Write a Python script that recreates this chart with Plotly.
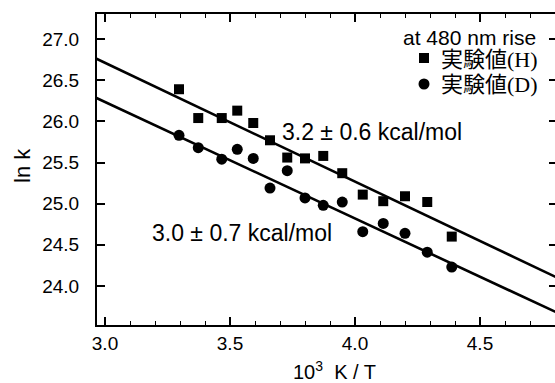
import numpy as np
import plotly.graph_objects as go

# ---- data ----
x_H = [3.296, 3.373, 3.467, 3.529, 3.593, 3.660, 3.729, 3.800, 3.873, 3.949, 4.031, 4.113, 4.200, 4.289, 4.387]
y_H = [26.39, 26.04, 26.04, 26.13, 25.98, 25.77, 25.56, 25.55, 25.58, 25.37, 25.11, 25.03, 25.09, 25.02, 24.60]

x_D = [3.296, 3.373, 3.467, 3.529, 3.593, 3.660, 3.729, 3.800, 3.873, 3.949, 4.031, 4.113, 4.200, 4.289, 4.387]
y_D = [25.83, 25.68, 25.54, 25.66, 25.55, 25.19, 25.40, 25.07, 24.98, 25.02, 24.66, 24.76, 24.64, 24.41, 24.23]

# fitted Arrhenius lines: ln k = intercept + slope * (1000/T)
fit_H = {"slope": -1.443, "intercept": 31.040}
fit_D = {"slope": -1.415, "intercept": 30.480}
fit_x = np.array([2.90, 4.90])

x_ticks = [3.0, 3.5, 4.0, 4.5]
y_ticks = [24.0, 24.5, 25.0, 25.5, 26.0, 26.5, 27.0]

label_H = "実験値(H)"
label_D = "実験値(D)"
legend_title = "at 480 nm rise"
ann_H = "3.2 ± 0.6 kcal/mol"
ann_D = "3.0 ± 0.7 kcal/mol"

X_RANGE = [2.968, 4.80]
Y_RANGE = [23.526, 27.304]

SANS = "Arial, Liberation Sans, Helvetica, sans-serif"
LEG_FONT = "Liberation Serif, Noto Sans CJK JP, serif"

W, H = 555, 383
ML, MR, MT, MB = 97, 0, 14, 58
PW, PH = W - ML - MR, H - MT - MB


def px(xp):
    return (xp - ML) / PW


def py(yp):
    return 1 - (yp - MT) / PH


fig = go.Figure()

fig.add_trace(go.Scatter(
    x=fit_x, y=fit_H["intercept"] + fit_H["slope"] * fit_x,
    mode="lines", line=dict(color="black", width=2.6),
    showlegend=False, hoverinfo="skip"))
fig.add_trace(go.Scatter(
    x=fit_x, y=fit_D["intercept"] + fit_D["slope"] * fit_x,
    mode="lines", line=dict(color="black", width=2.6),
    showlegend=False, hoverinfo="skip"))

fig.add_trace(go.Scatter(
    x=x_H, y=y_H, mode="markers", name=label_H, showlegend=False,
    marker=dict(symbol="square", size=10, color="black")))
fig.add_trace(go.Scatter(
    x=x_D, y=y_D, mode="markers", name=label_D, showlegend=False,
    marker=dict(symbol="circle", size=11, color="black")))

# empty trace to activate the right-hand tick axis
fig.add_trace(go.Scatter(x=[None], y=[None], yaxis="y2", showlegend=False, hoverinfo="skip"))

fig.add_annotation(x=3.70, y=25.87, xref="x", yref="y", text=ann_H,
                   showarrow=False, xanchor="left", yanchor="middle",
                   font=dict(family=SANS, size=23, color="black"))
fig.add_annotation(x=3.18, y=24.644, xref="x", yref="y", text=ann_D,
                   showarrow=False, xanchor="left", yanchor="middle",
                   font=dict(family=SANS, size=23, color="black"))

# legend block (drawn manually)
fig.add_annotation(x=px(538), y=py(37), xref="paper", yref="paper",
                   text=legend_title, showarrow=False, xanchor="right", yanchor="middle",
                   font=dict(family=SANS, size=21, color="black"))
fig.add_annotation(x=px(540), y=py(60), xref="paper", yref="paper",
                   text=label_H, showarrow=False, xanchor="right", yanchor="middle",
                   font=dict(family=LEG_FONT, size=22, color="black"))
fig.add_annotation(x=px(540), y=py(85), xref="paper", yref="paper",
                   text=label_D, showarrow=False, xanchor="right", yanchor="middle",
                   font=dict(family=LEG_FONT, size=22, color="black"))
fig.add_shape(type="rect", xref="paper", yref="paper",
              x0=px(419), x1=px(429), y0=py(63), y1=py(53),
              fillcolor="black", line=dict(width=0))
fig.add_shape(type="circle", xref="paper", yref="paper",
              x0=px(418.5), x1=px(429.5), y0=py(89.5), y1=py(78.5),
              fillcolor="black", line=dict(width=0))

# axis titles
fig.add_annotation(x=px(334), y=py(370), xref="paper", yref="paper",
                   text="10<sup>3</sup>  K / T", showarrow=False,
                   xanchor="center", yanchor="middle",
                   font=dict(family=SANS, size=20, color="black"))
fig.add_annotation(x=px(22), y=py(166), xref="paper", yref="paper",
                   text="ln k", showarrow=False, textangle=-90,
                   xanchor="center", yanchor="middle",
                   font=dict(family=SANS, size=22, color="black"))

fig.update_layout(
    width=W, height=H,
    margin=dict(l=ML, r=MR, t=MT, b=MB, autoexpand=False),
    plot_bgcolor="white", paper_bgcolor="white",
    font=dict(family=SANS, color="black"),
    showlegend=False,
    xaxis=dict(
        range=X_RANGE, tickvals=x_ticks, tickformat=".1f", automargin=False,
        showline=True, linewidth=2, linecolor="black", mirror="ticks",
        ticks="inside", ticklen=8, tickwidth=1.5, tickcolor="black",
        minor=dict(dtick=0.1, tick0=3.0, ticks="inside", ticklen=4, tickwidth=1.2,
                   tickcolor="black", showgrid=False),
        showgrid=False, zeroline=False,
        tickfont=dict(family=SANS, size=19, color="black"),
    ),
    yaxis=dict(
        range=Y_RANGE, tickvals=y_ticks, tickformat=".1f", automargin=False,
        showline=True, linewidth=2, linecolor="black", mirror=False,
        ticks="inside", ticklen=8, tickwidth=1.5, tickcolor="black",
        showgrid=False, zeroline=False, ticklabelstandoff=12,
        tickfont=dict(family=SANS, size=19, color="black"),
    ),
    yaxis2=dict(
        range=Y_RANGE, tickvals=y_ticks, overlaying="y", side="right", automargin=False,
        showline=False, showgrid=False, zeroline=False, showticklabels=False,
        ticks="inside", ticklen=6, tickwidth=1.5, tickcolor="black",
    ),
)

fig.write_html(
    "out.html",
    config={"displayModeBar": False},
    post_script="document.body.style.margin='0';document.body.style.padding='0';",
)
